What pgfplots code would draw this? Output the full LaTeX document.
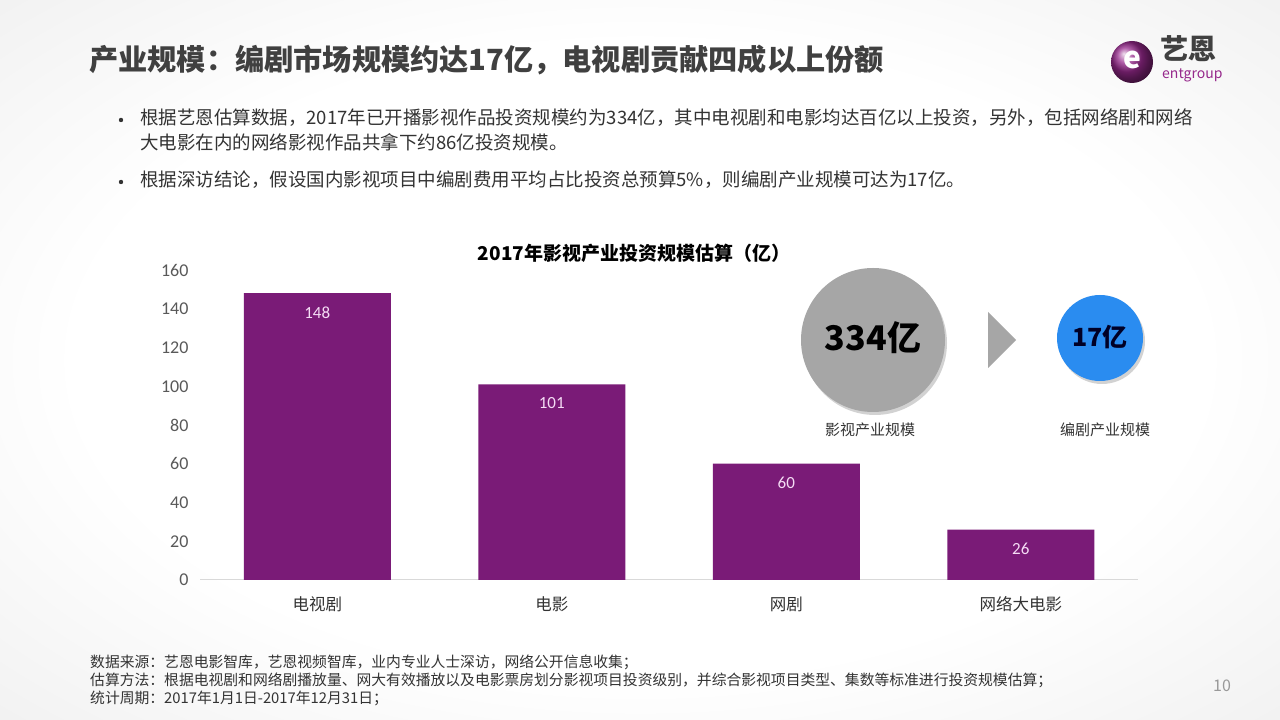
\documentclass[border=0pt]{standalone}
\usepackage{fontspec}
\setmainfont{Noto Sans CJK SC}
\newfontfamily\carlito{Carlito}
\usepackage{pgfplots}
\pgfplotsset{compat=1.18}
\usetikzlibrary{shadows}
\definecolor{barpurple}{RGB}{122,27,119}
\definecolor{titlegray}{RGB}{64,64,64}
\definecolor{txtgray}{RGB}{51,51,51}
\definecolor{tickgray}{RGB}{89,89,89}
\definecolor{circgray}{RGB}{166,166,166}
\definecolor{circblue}{RGB}{42,140,240}
\definecolor{logopurple}{RGB}{150,40,140}
\definecolor{barlabel}{RGB}{245,220,245}
\pgfdeclareradialshading{vignette}{\pgfpoint{0bp}{0bp}}{color(0bp)=(white); color(22bp)=(white); color(40bp)=(black!7); color(50bp)=(black!13)}
\begin{document}
\begin{tikzpicture}[x=1pt,y=1pt]
\useasboundingbox (0,0) rectangle (1280,720);
\shade[shading=vignette] (0,0) rectangle (1280,720);
% title
\node[anchor=west, text=titlegray, font=\fontsize{29.2}{32}\selectfont\bfseries, inner sep=0] at (89,660) {产业规模：编剧市场规模约达17亿，电视剧贡献四成以上份额};
% logo
\shade[ball color=logopurple] (1132,658) circle (21);
\node[text=white, font=\fontsize{30}{30}\selectfont\bfseries] at (1132,660) {e};
\node[anchor=west, text=titlegray, font=\fontsize{28}{28}\selectfont\bfseries, inner sep=0] at (1160,671) {艺恩};
\node[anchor=west, text=logopurple, font=\fontsize{14}{14}\selectfont, inner sep=0] at (1162,645) {entgroup};
% bullets
\fill[txtgray] (121,600) circle (2.2);
\fill[txtgray] (121,538) circle (2.2);
\begin{scope}[every node/.style={anchor=west, inner sep=0, text=txtgray, font=\fontsize{18.5}{20}\selectfont}]
\node at (140,602) {根据艺恩估算数据，2017年已开播影视作品投资规模约为334亿，其中电视剧和电影均达百亿以上投资，另外，包括网络剧和网络};
\node at (140,578) {大电影在内的网络影视作品共拿下约86亿投资规模。};
\node at (140,540) {根据深访结论，假设国内影视项目中编剧费用平均占比投资总预算5\%，则编剧产业规模可达为17亿。};
\end{scope}
% chart title
\node[text=black, font=\fontsize{19}{20}\selectfont\bfseries] at (634,467) {2017年影视产业投资规模估算（亿）};
\begin{axis}[
  at={(200pt,140pt)}, anchor=south west,
  scale only axis, width=938pt, height=310pt,
  xmin=-0.5, xmax=3.5, ymin=0, ymax=160,
  ytick={0,20,...,160},
  xtick={0,1,2,3},
  xticklabels={电视剧,电影,网剧,网络大电影},
  axis x line*=bottom, axis y line*=left,
  y axis line style={draw=none},
  x axis line style={draw=black!15, line width=1pt},
  major tick length=0pt,
  /pgf/number format/assume math mode=true,
  yticklabel style={font=\carlito\fontsize{18}{18}\selectfont, text=tickgray, xshift=-8pt},
  xticklabel style={font=\fontsize{16.5}{18}\selectfont, text=txtgray, yshift=-13pt},
  ybar, bar width=147pt,
  nodes near coords,
  every node near coord/.append style={anchor=north, yshift=-10pt, font=\carlito\fontsize{17}{17}\selectfont, text=barlabel},
  clip=false,
]
\addplot[fill=barpurple, draw=none] coordinates {(0,148) (1,101) (2,60) (3,26)};
\end{axis}
% circles
\fill[circgray, drop shadow={shadow xshift=2pt, shadow yshift=-3pt, opacity=0.35}] (873,380) circle (72);
\node[font=\fontsize{34}{34}\selectfont\bfseries, text=black] at (873,382) {334亿};
\fill[circgray] (988,408) -- (1016,380) -- (988,352) -- cycle;
\fill[circblue, drop shadow={shadow xshift=2pt, shadow yshift=-3pt, opacity=0.35}] (1100,382) circle (43);
\node[font=\fontsize{25}{25}\selectfont\bfseries, text=black!85!blue] at (1100,383) {17亿};
\node[font=\fontsize{15}{16}\selectfont, text=txtgray] at (870,290) {影视产业规模};
\node[font=\fontsize{15}{16}\selectfont, text=txtgray] at (1105,290) {编剧产业规模};
% footer
\begin{scope}[every node/.style={anchor=west, inner sep=0, text=txtgray, font=\fontsize{14.8}{16}\selectfont}]
\node at (90,58) {数据来源：艺恩电影智库，艺恩视频智库，业内专业人士深访，网络公开信息收集；};
\node at (90,40) {估算方法：根据电视剧和网络剧播放量、网大有效播放以及电影票房划分影视项目投资级别，并综合影视项目类型、集数等标准进行投资规模估算；};
\node at (90,22) {统计周期：2017年1月1日-2017年12月31日；};
\end{scope}
\node[text=black!40, font=\fontsize{16}{16}\selectfont] at (1222,34) {10};
\end{tikzpicture}
\end{document}
